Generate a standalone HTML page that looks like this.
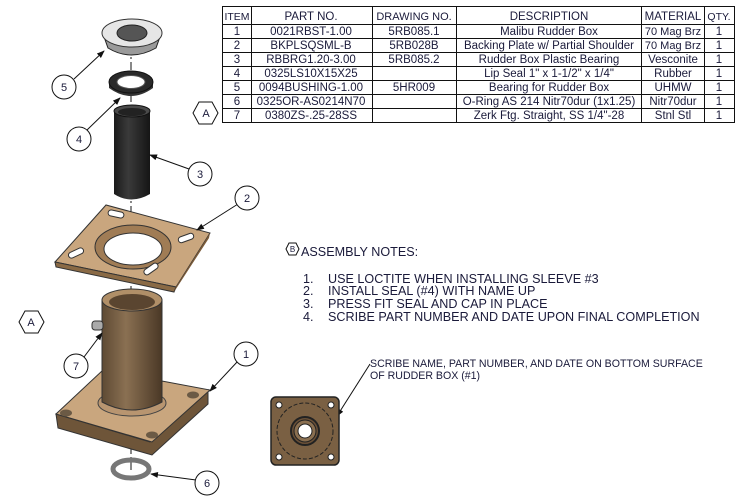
<!DOCTYPE html>
<html><head><meta charset="utf-8"><style>
html,body{margin:0;padding:0;background:#fff;width:742px;height:504px;overflow:hidden}
svg{display:block}
text{font-family:"Liberation Sans",sans-serif;fill:#1a1a3a}
.t{font-size:11.5px}
.n{font-size:12.6px}
</style></head><body>
<svg width="742" height="504" viewBox="0 0 742 504" xmlns="http://www.w3.org/2000/svg">
<defs>
<marker id="ar" markerWidth="8" markerHeight="6" refX="7" refY="3" orient="auto"><path d="M0,0 L8,3 L0,6z" fill="#111"/></marker>
<linearGradient id="br" x1="0" x2="1"><stop offset="0" stop-color="#5e4a34"/><stop offset="0.4" stop-color="#8a7052"/><stop offset="1" stop-color="#4a3826"/></linearGradient>
<linearGradient id="bk" x1="0" x2="1"><stop offset="0" stop-color="#1b1b1b"/><stop offset="0.4" stop-color="#3a3a3a"/><stop offset="1" stop-color="#151515"/></linearGradient>
</defs>
<g stroke="#111" stroke-width="1" fill="none">
<rect x="222.5" y="6.5" width="512" height="116"/>
<line x1="222" y1="24.5" x2="735" y2="24.5"/>
<line x1="222" y1="38.5" x2="735" y2="38.5"/>
<line x1="222" y1="52.5" x2="735" y2="52.5"/>
<line x1="222" y1="66.5" x2="735" y2="66.5"/>
<line x1="222" y1="80.5" x2="735" y2="80.5"/>
<line x1="222" y1="94.5" x2="735" y2="94.5"/>
<line x1="222" y1="108.5" x2="735" y2="108.5"/>
<line x1="251.5" y1="6" x2="251.5" y2="123"/>
<line x1="372.5" y1="6" x2="372.5" y2="123"/>
<line x1="456.5" y1="6" x2="456.5" y2="123"/>
<line x1="641.5" y1="6" x2="641.5" y2="123"/>
<line x1="704.5" y1="6" x2="704.5" y2="123"/>
</g>
<g class="t" text-anchor="middle">
<text x="237" y="20" style="font-size:10.5px">ITEM</text><text x="311" y="20">PART NO.</text><text x="414" y="20" style="font-size:11px">DRAWING NO.</text><text x="549" y="20">DESCRIPTION</text><text x="673" y="20">MATERIAL</text><text x="719" y="20" style="font-size:10.5px">QTY.</text>
<text x="237" y="35">1</text><text x="311" y="35">0021RBST-1.00</text><text x="414" y="35">5RB085.1</text><text x="549" y="35">Malibu Rudder Box</text><text x="673" y="35" style="font-size:11px">70 Mag Brz</text><text x="719" y="35">1</text>
<text x="237" y="49">2</text><text x="311" y="49">BKPLSQSML-B</text><text x="414" y="49">5RB028B</text><text x="549" y="49">Backing Plate w/ Partial Shoulder</text><text x="673" y="49" style="font-size:11px">70 Mag Brz</text><text x="719" y="49">1</text>
<text x="237" y="63">3</text><text x="311" y="63">RBBRG1.20-3.00</text><text x="414" y="63">5RB085.2</text><text x="549" y="63">Rudder Box Plastic Bearing</text><text x="673" y="63">Vesconite</text><text x="719" y="63">1</text>
<text x="237" y="77">4</text><text x="311" y="77">0325LS10X15X25</text><text x="549" y="77">Lip Seal 1" x 1-1/2" x 1/4"</text><text x="673" y="77">Rubber</text><text x="719" y="77">1</text>
<text x="237" y="91">5</text><text x="311" y="91">0094BUSHING-1.00</text><text x="414" y="91">5HR009</text><text x="549" y="91">Bearing for Rudder Box</text><text x="673" y="91">UHMW</text><text x="719" y="91">1</text>
<text x="237" y="105">6</text><text x="311" y="105">0325OR-AS0214N70</text><text x="549" y="105">O-Ring AS 214 Nitr70dur (1x1.25)</text><text x="673" y="105">Nitr70dur</text><text x="719" y="105">1</text>
<text x="237" y="119">7</text><text x="311" y="119">0380ZS-.25-28SS</text><text x="549" y="119">Zerk Ftg. Straight, SS 1/4"-28</text><text x="673" y="119">Stnl Stl</text><text x="719" y="119">1</text>
</g>
<line x1="131" y1="30" x2="131" y2="470" stroke="#111" stroke-dasharray="8,3,2,3"/>
<path d="M103,34 L108,48 Q131,62 156,48 L161,34 z" fill="#9a9a9a" stroke="#222"/>
<ellipse cx="132" cy="33" rx="30" ry="14" fill="#e6e6e6" stroke="#333"/>
<ellipse cx="132" cy="33" rx="15" ry="8" fill="#555" stroke="#222"/>
<path d="M109,82 L109,88 Q131,104 153,88 L153,82z" fill="#333"/>
<ellipse cx="131" cy="82" rx="22" ry="11" fill="#2a2a2a" stroke="#111"/>
<ellipse cx="131" cy="82" rx="14" ry="6.5" fill="#fff" stroke="#555"/>
<path d="M114,112 L114,194 Q131,205 150,194 L150,112z" fill="url(#bk)"/>
<ellipse cx="132" cy="111" rx="18" ry="6" fill="#4a4a4a" stroke="#111"/>
<ellipse cx="132" cy="112" rx="14" ry="4" fill="#222"/>
<path d="M55,262 L106,205 L210,233 L176,287 Z" fill="#c9a67e" stroke="#333"/>
<path d="M55,262 L176,287 L174,292 L56,267 Z" fill="#8a6a45" stroke="#333"/>
<path d="M176,287 L210,233 L209,238 L174,292z" fill="#7a5a38"/>
<ellipse cx="133" cy="247" rx="38" ry="22" fill="#a07c55" stroke="#333"/>
<ellipse cx="133" cy="249" rx="29" ry="16" fill="#fff" stroke="#333"/>
<rect x="108" y="211" width="16" height="6" rx="3" fill="#fff" stroke="#333" transform="rotate(12 116 214)"/>
<rect x="178" y="235" width="16" height="6" rx="3" fill="#fff" stroke="#333" transform="rotate(-20 186 238)"/>
<rect x="68" y="250" width="16" height="6" rx="3" fill="#fff" stroke="#333" transform="rotate(-25 76 253)"/>
<rect x="143" y="266" width="16" height="6" rx="3" fill="#fff" stroke="#333" transform="rotate(-35 151 269)"/>
<path d="M56,414 L58,428 L152,455 L208,404 L208,390 L150,442z" fill="#6e5539" stroke="#333"/>
<path d="M56,414 L103,370 L210,390 L152,442 Z" fill="#c9a67e" stroke="#333"/>
<ellipse cx="66" cy="413" rx="6" ry="3.5" fill="#6b5a45"/>
<ellipse cx="152" cy="435" rx="6" ry="3.5" fill="#6b5a45"/>
<ellipse cx="193" cy="395" rx="6" ry="3.5" fill="#6b5a45"/>
<ellipse cx="132" cy="403" rx="34" ry="13" fill="#b89570" stroke="#444"/>
<path d="M102,300 L102,402 Q132,418 162,402 L162,300z" fill="url(#br)" stroke="#333"/>
<ellipse cx="132" cy="300" rx="30" ry="11" fill="#b08f68" stroke="#333"/>
<ellipse cx="132" cy="302" rx="23" ry="8" fill="#5a4530"/>
<rect x="92" y="321" width="11" height="9" rx="3" fill="#aaa" stroke="#333"/>
<ellipse cx="131" cy="469" rx="18" ry="9" fill="none" stroke="#777" stroke-width="5"/>
<g stroke="#111" stroke-width="1" fill="none">
<line x1="74" y1="79" x2="104" y2="51" marker-end="url(#ar)"/>
<line x1="87" y1="130" x2="120" y2="98" marker-end="url(#ar)"/>
<line x1="189" y1="169" x2="150" y2="155" marker-end="url(#ar)"/>
<line x1="238" y1="204" x2="197" y2="230" marker-end="url(#ar)"/>
<line x1="238" y1="361" x2="210" y2="391" marker-end="url(#ar)"/>
<line x1="84" y1="357" x2="102" y2="333" marker-end="url(#ar)"/>
<line x1="196" y1="480" x2="151" y2="474" marker-end="url(#ar)"/>
<line x1="370" y1="364" x2="337" y2="416" marker-end="url(#ar)"/>
</g>
<g fill="#fff" stroke="#111">
<circle cx="64" cy="87" r="12"/><circle cx="79" cy="139" r="12"/><circle cx="200" cy="174" r="12"/>
<circle cx="247" cy="198" r="12"/><circle cx="246" cy="354" r="12"/><circle cx="76" cy="366" r="12"/><circle cx="207" cy="483" r="12"/>
<polygon points="193,113 199,102 212,102 218,113 212,124 199,124"/>
<polygon points="19,322 25,311 38,311 44,322 38,333 25,333"/>
<polygon points="286,249 289,243 296,243 299,249 296,255 289,255"/>
</g>
<g class="t" text-anchor="middle" style="font-size:11px">
<text x="64" y="91">5</text><text x="79" y="143">4</text><text x="200" y="178">3</text><text x="247" y="202">2</text>
<text x="246" y="358">1</text><text x="76" y="370">7</text><text x="207" y="487">6</text><text x="206" y="117">A</text><text x="31" y="326">A</text>
<text x="292.5" y="252" style="font-size:8px">B</text>
</g>
<g class="n">
<text x="301" y="256">ASSEMBLY NOTES:</text>
<text x="303" y="283">1.</text><text x="328" y="283">USE LOCTITE WHEN INSTALLING SLEEVE #3</text>
<text x="303" y="295">2.</text><text x="328" y="295">INSTALL SEAL (#4) WITH NAME UP</text>
<text x="303" y="308">3.</text><text x="328" y="308">PRESS FIT SEAL AND CAP IN PLACE</text>
<text x="303" y="321">4.</text><text x="328" y="321">SCRIBE PART NUMBER AND DATE UPON FINAL COMPLETION</text>
</g>
<text x="370" y="367" style="font-size:10.6px">SCRIBE NAME, PART NUMBER, AND DATE ON BOTTOM SURFACE</text>
<text x="370" y="379" style="font-size:10.6px">OF RUDDER BOX (#1)</text>
<rect x="271" y="397" width="68" height="68" rx="5" fill="#7a6043" stroke="#222" stroke-width="1.5"/>
<circle cx="305" cy="431" r="28" fill="none" stroke="#222" stroke-dasharray="4,2"/>
<circle cx="305" cy="431" r="14" fill="#6a5037" stroke="#222" stroke-width="2"/>
<circle cx="305" cy="431" r="11" fill="#8a6f50" stroke="#222"/>
<circle cx="305" cy="431" r="7" fill="#fff" stroke="#222"/>
<g fill="#fff" stroke="#222"><circle cx="279" cy="405" r="3"/><circle cx="331" cy="405" r="3"/><circle cx="279" cy="457" r="3"/><circle cx="331" cy="457" r="3"/></g>
</svg>
</body></html>
